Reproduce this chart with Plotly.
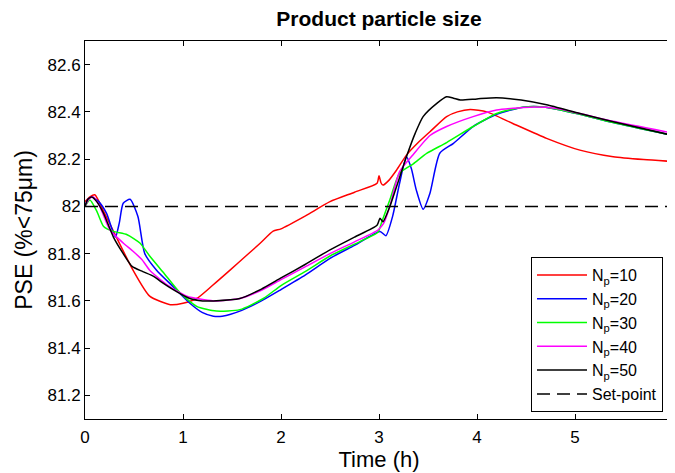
import plotly.graph_objects as go

# ---- data ----
t_np10 = [0, 0.05, 0.10, 0.2, 0.32, 0.49, 0.66, 0.87, 1.0, 1.14, 1.3, 1.48, 1.65, 1.79, 1.92, 2.0,
          2.25, 2.5, 2.75, 2.98, 3.0, 3.02, 3.04, 3.1, 3.18, 3.28, 3.4, 3.52, 3.69, 3.8, 3.93, 4.10,
          4.37, 4.71, 5.05, 5.39, 5.7, 6.0]
y_np10 = [82.02, 82.04, 82.049, 81.97, 81.87, 81.73, 81.62, 81.584, 81.59, 81.61, 81.665, 81.73, 81.793,
          81.845, 81.895, 81.905, 81.96, 82.02, 82.06, 82.098, 82.13, 82.10, 82.09, 82.11, 82.154,
          82.217, 82.27, 82.316, 82.38, 82.40, 82.41, 82.40, 82.35, 82.288, 82.238, 82.21, 82.198, 82.19]

t_np20 = [0, 0.03, 0.07, 0.14, 0.22, 0.31, 0.35, 0.39, 0.46, 0.54, 0.61, 0.73, 0.90, 1.07, 1.2, 1.31,
          1.4, 1.6, 1.8, 2.0, 2.25, 2.5, 2.75, 3.01, 3.07, 3.14, 3.21, 3.28, 3.33, 3.38, 3.45, 3.52,
          3.62, 3.76, 3.96, 4.2, 4.47, 4.7, 5.05, 5.39, 6.0]
y_np20 = [82.0, 82.03, 82.04, 82.02, 81.97, 81.87, 81.93, 82.013, 82.03, 81.957, 81.80, 81.73, 81.66,
          81.59, 81.55, 81.535, 81.535, 81.56, 81.60, 81.648, 81.71, 81.78, 81.835, 81.894, 81.876,
          81.96, 82.098, 82.21, 82.16, 82.07, 81.988, 82.056, 82.225, 82.267, 82.338, 82.39, 82.42,
          82.42, 82.39, 82.355, 82.30]

t_np30 = [0, 0.05, 0.12, 0.19, 0.29, 0.43, 0.56, 0.66, 0.80, 0.97, 1.14, 1.34, 1.58, 1.82, 2.0, 2.25,
          2.5, 2.75, 2.99, 3.01, 3.03, 3.11, 3.21, 3.35, 3.49, 3.69, 3.96, 4.2, 4.47, 4.7, 5.05, 5.39, 6.0]
y_np30 = [82.0, 82.027, 81.98, 81.915, 81.894, 81.88, 81.845, 81.79, 81.72, 81.634, 81.577, 81.557,
          81.563, 81.61, 81.665, 81.725, 81.79, 81.84, 81.89, 81.91, 81.936, 82.027, 82.14, 82.18,
          82.225, 82.27, 82.338, 82.393, 82.42, 82.42, 82.39, 82.355, 82.30]

t_np40 = [0, 0.04, 0.085, 0.15, 0.255, 0.39, 0.49, 0.58, 0.66, 0.83, 1.04, 1.31, 1.58, 1.8, 2.0, 2.25,
          2.5, 2.75, 2.99, 3.05, 3.11, 3.21, 3.35, 3.52, 3.69, 3.96, 4.2, 4.54, 4.8, 5.05, 5.39, 6.0]
y_np40 = [82.0, 82.03, 82.04, 82.0, 81.90, 81.845, 81.81, 81.775, 81.73, 81.67, 81.62, 81.60, 81.61,
          81.645, 81.69, 81.745, 81.80, 81.85, 81.90, 81.93, 82.0, 82.147, 82.22, 82.30, 82.338, 82.38,
          82.408, 82.42, 82.415, 82.393, 82.36, 82.31]

t_np50 = [0, 0.03, 0.07, 0.12, 0.19, 0.29, 0.39, 0.48, 0.59, 0.70, 0.77, 0.90, 1.07, 1.2, 1.31, 1.58,
          1.8, 2.0, 2.25, 2.5, 2.75, 2.98, 3.01, 3.04, 3.11, 3.2, 3.28, 3.37, 3.45, 3.59, 3.69, 3.76,
          3.83, 4.0, 4.2, 4.45, 4.71, 5.05, 5.39, 6.0]
y_np50 = [82.0, 82.03, 82.04, 82.02, 81.97, 81.87, 81.80, 81.746, 81.724, 81.704, 81.683, 81.648, 81.61,
          81.60, 81.60, 81.61, 81.65, 81.697, 81.755, 81.816, 81.87, 81.92, 81.95, 81.935, 81.999,
          82.11, 82.21, 82.31, 82.38, 82.436, 82.464, 82.458, 82.45, 82.455, 82.46, 82.45, 82.43,
          82.393, 82.358, 82.30]

t_setpoint = [0, 6]
y_setpoint = [82.0, 82.0]

series_names = ["N<sub>p</sub>=10", "N<sub>p</sub>=20", "N<sub>p</sub>=30", "N<sub>p</sub>=40", "N<sub>p</sub>=50"]
series_t = [t_np10, t_np20, t_np30, t_np40, t_np50]
series_y = [y_np10, y_np20, y_np30, y_np40, y_np50]
colors = ["#ff0000", "#0000ff", "#00ff00", "#ff00ff", "#000000"]

x_ticks = [0, 1, 2, 3, 4, 5, 6]
x_ticktext = ["0", "1", "2", "3", "4", "5", "6"]
y_ticks = [81.2, 81.4, 81.6, 81.8, 82.0, 82.2, 82.4, 82.6]
y_ticktext = ["81.2", "81.4", "81.6", "81.8", "82", "82.2", "82.4", "82.6"]

FONT = "Liberation Sans, Arial, Helvetica, sans-serif"

# The page body adds an 8px offset; margins are shifted to compensate.
W, H = 675, 465

fig = go.Figure()
for name, tt, yy, c in zip(series_names, series_t, series_y, colors):
    fig.add_trace(go.Scatter(x=tt, y=yy, mode="lines", name=name,
                             line=dict(color=c, width=1.5, shape="spline", smoothing=0.6)))
fig.add_trace(go.Scatter(x=t_setpoint, y=y_setpoint, mode="lines", name="Set-point",
                         line=dict(color="black", width=1.5, dash="13px,7px")))

fig.update_layout(
    width=W, height=H,
    margin=dict(l=77, r=10, t=33, b=54),
    paper_bgcolor="white", plot_bgcolor="white",
    font=dict(family=FONT, size=17, color="black"),
    title=dict(text="<b>Product particle size</b>", x=0.5, xref="paper", xanchor="center",
               y=1 - 11 / H, yanchor="middle", font=dict(size=21, family=FONT, color="black")),
    legend=dict(x=0.983, y=0.0185, xanchor="right", yanchor="bottom",
                bgcolor="white", bordercolor="black", borderwidth=1, itemwidth=50,
                font=dict(size=16, family=FONT, color="black"), tracegroupgap=0),
    showlegend=True,
)
fig.update_xaxes(range=[0, 6], tickvals=x_ticks, ticktext=x_ticktext, automargin=False,
                 ticks="inside", ticklen=5, tickcolor="black", showline=True, linecolor="black",
                 linewidth=1, mirror="ticks", showgrid=False, zeroline=False, ticklabelstandoff=3,
                 title=dict(text="Time (h)", font=dict(size=22), standoff=0))
fig.update_yaxes(range=[81.1, 82.7], tickvals=y_ticks, ticktext=y_ticktext, automargin=False,
                 ticks="inside", ticklen=5, tickcolor="black", showline=True, linecolor="black",
                 linewidth=1, mirror="ticks", showgrid=False, zeroline=False, ticklabelstandoff=0,
                 title=dict(text="PSE (%<75μm)", font=dict(size=23), standoff=8))

fig.write_html("out.html")
